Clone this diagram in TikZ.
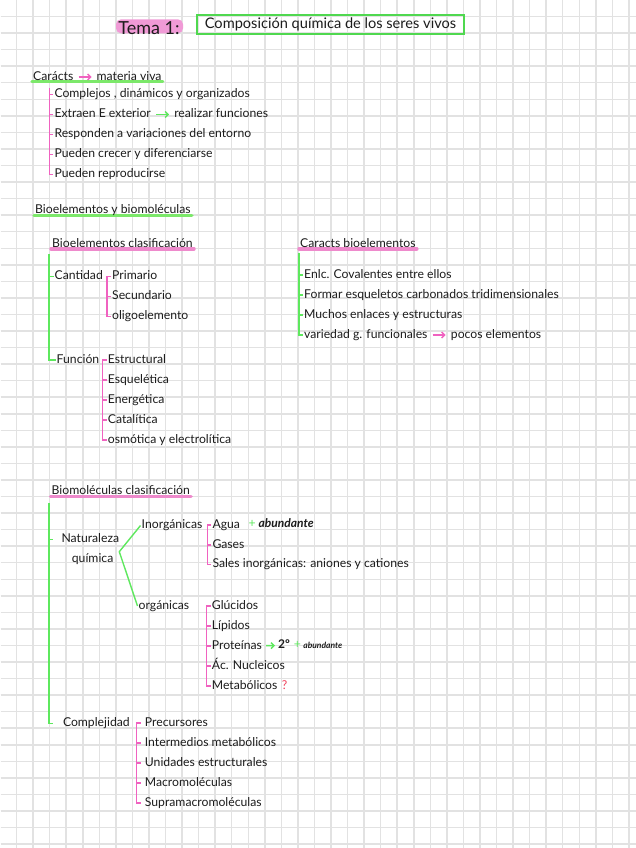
\documentclass[tikz,border=0pt]{standalone}
\usepackage{fontspec}
\setmainfont{Lato}
\newfontfamily\abfont{Lato}
\usetikzlibrary{arrows.meta,positioning}

\definecolor{ink}{HTML}{1C1C1C}
\definecolor{gridgray}{HTML}{E2E2E2}
\definecolor{pinkline}{HTML}{F062C0}
\definecolor{pinkhl}{HTML}{EE8ACC}
\definecolor{temahl}{HTML}{F09AD6}
\definecolor{greenline}{HTML}{5EE85E}
\definecolor{greenhl}{HTML}{7CE86A}
\definecolor{titlegreen}{HTML}{4FD84F}
\definecolor{qred}{HTML}{F0405A}

\pgfdeclarelayer{paper}
\pgfdeclarelayer{background}
\pgfsetlayers{paper,background,main}

\tikzset{
  gridline/.style={draw=gridgray, line width=1.5pt},
  txt/.style={anchor=west, inner xsep=1pt, inner ysep=0pt, text height=9pt, text depth=2.5pt, text=ink, font=\fontsize{12.2}{14}\selectfont},
  abund/.style={txt, font=\abfont\bfseries\itshape\fontsize{12}{14}\selectfont},
  pk/.style={draw=pinkline, line width=1.2pt},
  gr/.style={draw=greenline, line width=1.4pt},
  pkhl/.style={draw=pinkhl, line width=3.5pt, line cap=round},
  grhl/.style={draw=greenhl, line width=3.5pt, line cap=round},
  pkarr/.style={pk, line width=1.4pt, -{Straight Barb[length=3pt,width=6pt]}, shorten <=4pt, shorten >=4pt},
  grarr/.style={gr, -{Straight Barb[length=3pt,width=6pt]}, shorten <=4pt, shorten >=4pt},
}

\begin{document}
\begin{tikzpicture}[x=1pt, y=-1pt]
    % Paper
    \useasboundingbox (0,0) rectangle (636,848);
    \begin{pgfonlayer}{paper}
      \fill[white] (0,0) rectangle (636,848);
      \draw[gridline, step=16.55pt] (0.5,0.5) grid (636,848);
    \end{pgfonlayer}

    % Title
    \node[fill=temahl, rounded corners=5pt, minimum width=67pt, minimum height=14pt, inner sep=0pt] (temabg) at (149.5,26.3) {};
    \node[anchor=base, inner sep=0pt, text=ink, font=\fontsize{18}{20}\selectfont] (tema) at (149,34.5) {Tema 1:};
    \node[draw=titlegreen, line width=1.8pt, minimum width=267pt, minimum height=19pt, inner sep=0pt, text=ink, font=\fontsize{14.6}{17}\selectfont] (title) at (330.5,24.3) {Composición química de los seres vivos};

    % Caracteristicas materia viva
    \node[txt] (car) at (32,77) {Carácts};
    \node[txt, right=21pt of car] (viva) {materia viva};
    \node[txt] (c1) at (53.3,94.5) {Complejos , dinámicos y organizados};
    \node[txt] (c2) at (53.3,114.5) {Extraen E exterior};
    \node[txt, right=21pt of c2] (c2b) {realizar funciones};
    \node[txt] (c3) at (53.3,134.5) {Responden a variaciones del entorno};
    \node[txt] (c4) at (53.3,154.5) {Pueden crecer y diferenciarse};
    \node[txt] (c5) at (53.3,174.5) {Pueden reproducirse};
    \coordinate (root1) at (49.3,88);

    \draw[pkarr] (car) -- (viva);
    \draw[grarr] (c2) -- (c2b);
    \draw[pk] (root1) |- (c5.west);
    \draw[pk] (c1.west -| root1) -- (c1.west) (c2.west -| root1) -- (c2.west)
              (c3.west -| root1) -- (c3.west) (c4.west -| root1) -- (c4.west);

    % Bioelementos
    \node[txt] (bio) at (34,210.7) {Bioelementos y biomoléculas};
    \node[txt] (bcl) at (51,244) {Bioelementos clasificación};
    \coordinate (root2) at (49,254);
    \node[txt] (cant) at (53.5,276.5) {Cantidad};
    \node[txt] (p1) at (111,276.5) {Primario};
    \node[txt] (p2) at (111,296.5) {Secundario};
    \node[txt] (p3) at (111,316.5) {oligoelemento};
    \node[txt] (func) at (55.5,360) {Función};
    \node[txt] (f1) at (106.7,360) {Estructural};
    \node[txt] (f2) at (106.7,380) {Esquelética};
    \node[txt] (f3) at (106.7,400) {Energética};
    \node[txt] (f4) at (106.7,420) {Catalítica};
    \node[txt] (f5) at (106.7,440) {osmótica y electrolítica};

    \draw[gr] (root2) |- (func.west);
    \draw[gr] (cant.west -| root2) -- (cant.west);
    \draw[pk] (p1.west) -- ++(-4,0) |- (p3.west);
    \draw[pk] (p2.west) -- ++(-4,0);
    \draw[pk] (f1.west) -- ++(-4,0) |- (f5.west);
    \draw[pk] (f2.west) -- ++(-4,0) (f3.west) -- ++(-4,0) (f4.west) -- ++(-4,0);

    % Caracts bioelementos
    \node[txt] (cbio) at (299,244) {Caracts bioelementos};
    \coordinate (root3) at (299,253);
    \node[txt] (r1) at (303,275) {Enlc. Covalentes entre ellos};
    \node[txt] (r2) at (303,295) {Formar esqueletos carbonados tridimensionales};
    \node[txt] (r3) at (303,315) {Muchos enlaces y estructuras};
    \node[txt] (r4) at (303,335) {variedad g. funcionales};
    \node[txt, right=21pt of r4] (r4b) {pocos elementos};

    \draw[gr] (root3) |- (r4.west);
    \draw[gr] (r1.west -| root3) -- (r1.west) (r2.west -| root3) -- (r2.west)
              (r3.west -| root3) -- (r3.west);
    \draw[pkarr] (r4) -- (r4b);

    % Biomoleculas
    \node[txt] (bmc) at (50.5,491.7) {Biomoléculas clasificación};
    \coordinate (root4) at (49,503);
    \node[txt, inner xsep=8pt] (nat) at (53.3,539.5) {Naturaleza};
    \node[txt] (quim) at (70.7,559) {química};
    \coordinate (fork) at (119.3,551.7);
    \node[txt] (inorg) at (140.5,525.5) {Inorgánicas};
    \node[txt] (org) at (137.5,606) {orgánicas};
    \node[txt, inner xsep=9.5pt] (comp) at (53.3,723.5) {Complejidad};

    \node[txt] (a1) at (211.3,525) {Agua};
    \node[txt, text=greenline] (plus1) at (247.5,524) {+};
    \node[abund, right=0.5pt of plus1] (ab1) {abundante};
    \node[txt] (a2) at (211.3,545) {Gases};
    \node[txt] (a3) at (211.3,564.5) {Sales inorgánicas: aniones y cationes};

    \node[txt] (o1) at (210.7,606) {Glúcidos};
    \node[txt] (o2) at (210.7,626) {Lípidos};
    \node[txt] (o3) at (210.7,646) {Proteínas};
    \node[txt, font=\abfont\bfseries\fontsize{12}{14}\selectfont] (two) at (277,645.5) {2º};
    \node[txt, text=greenline, right=1.5pt of two] (plus2) {+};
    \node[abund, font=\abfont\bfseries\itshape\fontsize{8.5}{10}\selectfont, right=0pt of plus2] (ab2) {abundante};
    \node[txt] (o4) at (210.7,666) {Ác. Nucleicos};
    \node[txt] (o5) at (210.7,686) {Metabólicos};
    \node[txt, text=qred, right=2pt of o5] (qm) {?};

    \node[txt, inner xsep=4pt] (k1) at (140.7,723) {Precursores};
    \node[txt, inner xsep=4pt] (k2) at (140.7,743) {Intermedios metabólicos};
    \node[txt, inner xsep=4pt] (k3) at (140.7,763) {Unidades estructurales};
    \node[txt, inner xsep=4pt] (k4) at (140.7,783) {Macromoléculas};
    \node[txt, inner xsep=4pt] (k5) at (140.7,803) {Supramacromoléculas};

    \draw[gr] (root4) |- (comp.west);
    \draw[gr] (nat.west -| root4) -- (nat.west);
    \draw[gr] (inorg.west) -- (fork) -- (org.west);
    \draw[grarr, shorten <=3pt, shorten >=2pt] (o3) -- (two);
    \draw[pk] (a1.west) -- ++(-4,0) |- (a3.west);
    \draw[pk] (a2.west) -- ++(-4,0);
    \draw[pk] (o1.west) -- ++(-4,0) |- (o5.west);
    \draw[pk] (o2.west) -- ++(-4,0) (o3.west) -- ++(-4,0) (o4.west) -- ++(-4,0);
    \draw[pk] (k1.west) -- ++(-4,0) |- (k5.west);
    \draw[pk] (k2.west) -- ++(-4,0) (k3.west) -- ++(-4,0) (k4.west) -- ++(-4,0);

    % Highlights
    \begin{pgfonlayer}{background}
      \draw[grhl] ([yshift=-1.5pt]car.base west) -- ([yshift=-1.5pt]viva.base east);
      \draw[grhl] ([yshift=-1.5pt]bio.base west) -- ([yshift=-1.5pt]bio.base east);
      \draw[pkhl] ([yshift=-1.5pt]bcl.base west) -- ([yshift=-1.5pt]bcl.base east);
      \draw[pkhl] ([yshift=-1.5pt]cbio.base west) -- ([yshift=-1.5pt]cbio.base east);
      \draw[pkhl] ([yshift=-1.5pt]bmc.base west) -- ([yshift=-1.5pt]bmc.base east);
    \end{pgfonlayer}
\end{tikzpicture}
\end{document}
